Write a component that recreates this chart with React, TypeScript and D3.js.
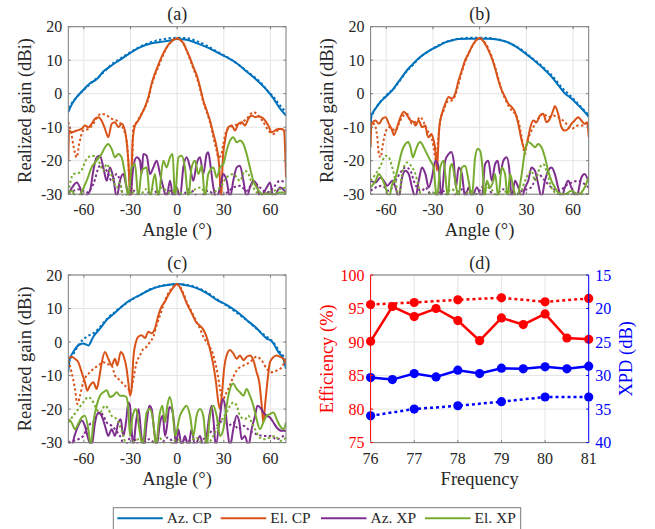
import React from 'react';
import * as d3 from 'd3';

type Pt = [number, number];

const W = 655, H = 529;
const FONT = "'Liberation Serif', 'Times New Roman', Times, serif";
const C_AZCP = '#0072BD', C_ELCP = '#D95319', C_AZXP = '#7E2F8E', C_ELXP = '#77AC30';
const BOX = '#7a7a7a', GRID = '#e4e4e4', TXT = '#262626';

const angleTicks = [-60, -30, 0, 30, 60];
const gainTicks = [-30, -20, -10, 0, 10, 20];
const freqTicks = [76, 77, 78, 79, 80, 81];
const effTicks = [75, 80, 85, 90, 95, 100];
const xpdTicks = [15, 20, 25, 30, 35, 40];
const legendLabels = ['Az. CP', 'El. CP', 'Az. XP', 'El. XP'];

// ---------- Panel (a) ----------
const aAzCPMeas: Pt[] = [[-70,-5.5],[-68,-3.4],[-64.6,-1],[-60.4,1.1],[-56,3.1],[-51.8,4.3],[-47.5,6.6],[-43.2,8.1],[-36.8,10.1],[-30.3,12.1],[-23.9,13.8],[-17.5,14.9],[-11,15.4],[-4.6,15.9],[0,16.3],[6.1,16.1],[12.5,15.1],[19,13.9],[25.4,12.4],[31.8,10.9],[38.3,9.1],[44.7,6.6],[51.1,4.1],[57.6,1.1],[61.9,-1.4],[66.1,-4.4],[70,-6.5]];
const aAzCPSim: Pt[] = [[-70,-4.2],[-66,-1.8],[-62,0.3],[-58,2],[-54,3.8],[-50,5.2],[-46,7],[-42,8.8],[-38,10],[-34,11.3],[-30,12.4],[-24,14],[-18,15.2],[-12,16],[-6,16.5],[0,16.7],[6,16.6],[12,15.8],[18,14.6],[24,13],[30,11.5],[36,9.8],[42,7.8],[48,5.6],[54,3.2],[58,1],[62,-1],[66,-3.4],[70,-5.5]];
const aElCPMeas: Pt[] = [[-70,-20],[-69.5,-11],[-67.9,-11.5],[-64.6,-11],[-61.4,-10.5],[-59.3,-9.5],[-57.1,-10],[-55,-9],[-52.8,-7.5],[-50.7,-7],[-48.6,-8],[-46.4,-10.5],[-44.3,-13],[-42.1,-9],[-40,-8.5],[-37.8,-10],[-35.7,-9],[-33.6,-11],[-31.4,-20],[-30,-32],[-28.6,-14],[-27.1,-9.5],[-25,-8],[-22.8,-6],[-20.7,-4],[-18.5,-1],[-16.4,3],[-14.3,6],[-12.1,8.6],[-10,11],[-7.8,13],[-5.7,14.6],[-3.5,15.6],[-1.4,16.3],[0,16.4],[1.8,16.1],[4,15.1],[6.1,13],[8.3,10.6],[10.4,8],[12.5,5.6],[14.7,2],[16.8,-2],[19,-5],[21.1,-8],[23.3,-12],[25.4,-16],[27.1,-22],[28.2,-32],[29.3,-20],[30.8,-14],[32.9,-10],[35.1,-9.5],[37.2,-11],[39.3,-9],[41.5,-8.5],[43.6,-9.5],[45.8,-7.5],[47.9,-6.5],[50.1,-7],[52.2,-6.8],[54.4,-7.1],[56.5,-8],[58.6,-9.5],[60.8,-11.5],[62.9,-11],[65.1,-10.5],[67.2,-10.5],[68.7,-11],[70,-25]];
const aElCPSim: Pt[] = [[-70,-8.5],[-68,-12],[-66.5,-16],[-64.6,-19],[-63,-15],[-60.4,-11],[-57,-10.5],[-53.9,-9],[-50.7,-6.5],[-48.6,-6],[-45.3,-6.5],[-42.1,-7.5],[-38.9,-8],[-35.7,-9.5],[-32.5,-14],[-30.3,-28],[-29.5,-32],[-28.2,-10],[-26,-8.5],[-21.8,-5],[-18.5,-1.5],[-16.4,2.5],[-14.3,5.5],[-12.1,8],[-10,10.5],[-7.8,12.8],[-5.7,14.5],[-3.5,15.7],[-1.4,16.5],[0,16.6],[1.8,16.2],[4,15],[6.1,12.8],[8.3,10.2],[10.4,7.5],[12.5,5],[14.7,1.5],[16.8,-2.5],[19,-5.5],[21.1,-8.5],[23.3,-13],[25.4,-17],[26.5,-19],[28.2,-18.5],[29.7,-15],[31.8,-11],[36.1,-9.5],[40.4,-9],[44.7,-7.5],[49,-5.5],[52.2,-6.5],[55.4,-8.5],[59.7,-11.5],[61.9,-12],[66.1,-10.5],[70,-11]];
const aAzXPMeas: Pt[] = [[-70,-30],[-66.8,-27.5],[-64.6,-26.5],[-62.5,-28],[-60.4,-31],[-56.1,-29],[-53.9,-23],[-51.8,-19],[-49.6,-18.5],[-47.5,-22],[-45.3,-26],[-43.2,-22],[-41.1,-25],[-38.9,-31],[-36.8,-26],[-34.6,-24],[-32.5,-28],[-30.3,-31],[-28.2,-22],[-26,-19],[-23.9,-20],[-22.8,-24],[-21.8,-18],[-19.6,-18.5],[-17.5,-24],[-15.3,-22],[-13.2,-20],[-11,-24],[-8.9,-28],[-6.8,-31],[-4.6,-26],[-2.5,-31],[-0.3,-28],[1.8,-31],[4,-22],[6.1,-19],[8.3,-22],[10.4,-26],[12.5,-21],[14.7,-19],[16.8,-24],[19,-18],[20,-17.5],[21.6,-22],[23.3,-28],[25.4,-31],[27.6,-28],[29.7,-24],[31.8,-26],[34,-31],[36.1,-26],[38.3,-22],[40.4,-21.5],[42.6,-26],[44.7,-31],[46.8,-28],[49,-26],[51.1,-27],[53.3,-31],[57.6,-28],[59.7,-26.5],[61.9,-31],[66.1,-28],[70,-29.5]];
const aAzXPSim: Pt[] = [[-70,-29.5],[-66.8,-29],[-62.5,-28.5],[-58.2,-29.5],[-53.9,-27],[-49.6,-21.5],[-47.5,-22],[-45.3,-23],[-42.1,-26],[-38.9,-24],[-36.8,-26],[-34.6,-31],[-28,-29],[-22,-31],[-16,-28.5],[-10,-31],[-4,-29],[2,-31],[8,-28.5],[14,-31],[20,-29],[26,-31],[32,-29.5],[36.1,-28],[40.4,-27.5],[44.7,-29],[49,-26.5],[53.3,-28],[57.6,-29.5],[61.9,-28],[66.1,-26],[70,-26.5]];
const aElXPMeas: Pt[] = [[-70,-30],[-67.9,-29],[-64.6,-31],[-58.2,-26],[-55,-22],[-51.8,-20],[-48.6,-18],[-46.4,-16],[-44.3,-15],[-42.1,-16.5],[-40,-19],[-37.8,-18],[-35.7,-19],[-33.6,-24],[-31.4,-31],[-29.3,-22],[-27.1,-21],[-25,-31],[-22.8,-23],[-19.6,-22],[-17.5,-31],[-14.3,-24],[-12.1,-31],[-8.9,-20],[-6.8,-22],[-4.6,-19],[-2.9,-18],[-1.4,-31],[0.8,-19],[2.9,-18.5],[5,-22],[7.2,-31],[9.3,-22],[11.5,-20],[13.6,-24],[15.8,-21.5],[17.9,-31],[20,-24],[23.3,-22],[25.4,-25],[27.6,-22],[29.7,-21],[31.8,-17],[34,-14],[36.1,-13],[38.3,-14.5],[40.4,-14],[42.6,-15],[44.7,-18],[46.8,-22],[49,-26],[51.1,-28],[55.4,-30],[61.9,-30],[66,-29.5],[70,-29.5]];
const aElXPSim: Pt[] = [[-70,-29.5],[-66.8,-24],[-62.5,-23.5],[-58.2,-19.5],[-55,-18.5],[-51.8,-19],[-49.6,-21],[-47.5,-23],[-45.3,-21],[-43.2,-23],[-41.1,-26],[-38.9,-28],[-36.8,-26.5],[-34.6,-31],[-30,-29],[-25,-31],[-20,-28.5],[-15,-31],[-10,-28],[-5,-29.5],[0,-28.5],[5,-31],[10,-29],[15,-28],[20,-31],[25,-29],[27.6,-28],[31.8,-25],[36.1,-24],[40.4,-26],[43.6,-23],[45.8,-24],[49,-28],[53.3,-30],[61.9,-29],[70,-28]];

// ---------- Panel (b) ----------
const bAzCPMeas: Pt[] = [[-70,-10.5],[-69.5,-6.5],[-68.9,-5.9],[-66.8,-4.4],[-63.6,-2.4],[-60.4,-1],[-58.3,0],[-56.1,1],[-53,3],[-49.8,5],[-46.6,7],[-43.4,8.6],[-39.1,10.6],[-34.8,12.1],[-30.6,13.3],[-26.3,14.3],[-22.1,15.3],[-17.8,15.9],[-13.5,16.3],[-7.1,16.4],[0,16.4],[5.6,16.4],[12,16.1],[18.4,15.3],[24.8,13.6],[29.1,12.1],[33.3,10.6],[37.6,8.9],[41.9,7.1],[46.1,5.1],[50.4,2.6],[54.7,0.1],[58.9,-1.4],[63.2,-3.4],[67.4,-5.4],[70,-6.9]];
const bAzCPSim: Pt[] = [[-70,-7.5],[-67,-4.5],[-63,-2],[-59,0],[-55,1.6],[-51,4],[-47,6.6],[-43,8.5],[-39,10.5],[-35,12],[-31,13.2],[-27,14.3],[-23,15.2],[-18,16],[-12,16.5],[-6,16.7],[0,16.7],[6,16.6],[12,16.2],[18,15.3],[24,14],[29,12.4],[34,10.5],[38,9],[42,7.4],[46,5.6],[50,3.4],[54,1.2],[58,-0.5],[62,-2.4],[66,-4.4],[70,-6.4]];
const bElCPMeas: Pt[] = [[-70,-16],[-69.4,-9],[-66.8,-8],[-64.7,-9],[-62.5,-7.5],[-60.4,-7],[-58.3,-9],[-56.1,-11],[-55.1,-12.4],[-53,-10],[-50.8,-7],[-48.7,-5.4],[-46.6,-6.4],[-44.4,-8],[-42.3,-8.5],[-41.2,-9.5],[-39.1,-8],[-37,-10],[-34.8,-9.5],[-33.8,-12],[-32.7,-13],[-31,-12],[-29.5,-14],[-28.4,-17],[-27.4,-23],[-26.7,-17],[-25.9,-10],[-24.2,-6],[-22.1,-3],[-19.9,-1],[-17.8,-1.5],[-15.7,0],[-13.5,4],[-11.4,7],[-9.3,10],[-7.1,12],[-5,14],[-2.9,15.6],[0,16.6],[2.4,15.6],[5.6,13],[7.8,10.6],[9.9,7.6],[12,4],[14.2,1],[16.3,-1],[18.4,-3],[20.6,-4],[22.7,-5.5],[24.8,-9],[27,-14],[28.7,-16.5],[29.7,-16],[31.2,-13],[32.3,-10.5],[34.4,-8],[36.5,-8.5],[38.7,-6.5],[40.8,-6],[42.9,-8.5],[45.1,-7.5],[47.2,-5],[48.3,-3.7],[50.4,-6],[52.5,-10],[54.7,-11],[56.8,-10.5],[58.9,-9],[61,-8],[63.2,-7],[65.3,-8],[67.4,-9],[69.1,-8.5],[70,-13]];
const bElCPSim: Pt[] = [[-70,-10.5],[-67.9,-9],[-65.7,-13],[-64.7,-18],[-63.6,-19],[-62.1,-15],[-60.4,-11.5],[-58.3,-10],[-56.1,-10.5],[-54,-11],[-51.9,-9],[-49.8,-7],[-46.6,-6],[-43.4,-9],[-40.2,-8],[-38,-7],[-35.9,-8.5],[-33.8,-11],[-31.6,-12],[-29.5,-16],[-28,-20],[-26.7,-14],[-25.3,-8],[-23.1,-5],[-21,-2.5],[-17.8,-2],[-15.7,-0.5],[-13.5,3],[-11.4,6.5],[-9.3,9.5],[-7.1,12],[-5,14],[-2.9,15.5],[0,16.6],[2.4,15.8],[5.6,13.5],[7.8,11],[9.9,8],[12,4.5],[14.2,1],[16.3,-1.5],[18.4,-3.5],[20.6,-5],[22.7,-6],[24.8,-8],[27,-13],[29.1,-18],[30.2,-15],[32.3,-12],[34.4,-10],[37.6,-7.5],[40.8,-6],[44,-7],[47.2,-6.5],[50.4,-7],[54.7,-8.5],[58.9,-10.5],[63.2,-9.5],[66.4,-9.5],[70,-8]];
const bAzXPMeas: Pt[] = [[-70,-26],[-66.8,-26.5],[-63.6,-25],[-61.5,-26],[-59.3,-27.5],[-56.1,-26],[-54,-28],[-51.9,-31],[-49.8,-25],[-47.6,-23],[-45.5,-24],[-43.4,-28],[-41.2,-31],[-39.1,-26],[-37,-22],[-34.8,-24],[-32.7,-28],[-30.6,-25],[-28.4,-20],[-26.3,-22],[-24.6,-31],[-22.1,-20],[-19.9,-18],[-18.2,-17.4],[-16.7,-20],[-15.2,-28],[-13.5,-22],[-11.4,-24],[-9.3,-31],[-7.1,-28],[-5,-31],[-1.8,-28],[1.4,-31],[3.5,-21],[5.6,-20],[7.8,-26],[9.9,-21],[11.6,-20],[13.1,-24],[15.2,-20],[17.4,-19],[18.9,-22],[20.6,-31],[22.7,-26],[24.8,-28],[27,-31],[29.1,-28],[31.2,-26],[33.3,-22],[35.5,-23],[37.6,-27],[39.7,-31],[41.9,-26],[44,-23],[46.1,-22],[48.3,-24],[50.4,-28],[52.5,-31],[54.7,-28],[56.8,-26],[58.9,-28],[62.1,-31],[65.3,-25],[67.4,-24],[70,-26.5]];
const bAzXPSim: Pt[] = [[-70,-29],[-66.8,-28],[-62.5,-27.5],[-58.3,-29],[-54,-26],[-50.8,-23.5],[-47.6,-22],[-44.4,-23],[-42.3,-26],[-40.2,-28],[-37,-29],[-34.8,-28],[-30,-31],[-24,-29],[-18,-31],[-12,-28.5],[-6,-31],[0,-29],[3.5,-27],[5.6,-27.5],[9,-31],[15,-28.5],[21,-31],[27,-29],[33,-28],[37.6,-24],[41.9,-26],[46.1,-28],[50.4,-29],[56.8,-27],[63.2,-26],[67.4,-27],[70,-28]];
const bElXPMeas: Pt[] = [[-70,-28],[-66.8,-26],[-64.7,-24],[-62.5,-25.5],[-60.4,-28],[-58.3,-31],[-56.1,-27],[-54,-25],[-51.9,-21],[-49.8,-17],[-47.6,-15],[-45.9,-14.4],[-44.4,-16],[-42.9,-19],[-41.2,-17],[-39.5,-15],[-38,-14.4],[-35.9,-16],[-33.8,-18],[-31.6,-20],[-29.5,-22],[-28.4,-28],[-27.4,-31],[-25.3,-22],[-23.1,-20],[-22.1,-24],[-20.4,-31],[-18.9,-22],[-17.8,-21],[-15.7,-26],[-13.5,-31],[-11.4,-22],[-9.3,-21.5],[-7.1,-26],[-5,-31],[-2.9,-19],[-1.2,-16.4],[0.3,-17],[1.8,-22],[3.1,-31],[4.6,-26],[6.7,-28],[8.8,-26],[9.9,-24],[12,-31],[14.2,-22],[16.3,-24],[18,-31],[19.5,-24],[21.6,-28],[23.8,-31],[27,-24],[29.1,-17],[31.2,-14.4],[33.3,-15],[35.5,-16],[37.6,-15],[39.7,-16],[41.9,-19],[44,-23],[46.1,-26],[48.3,-28],[50.4,-29.5],[54.7,-30],[58.9,-29],[63.2,-30],[67.4,-28],[70,-25]];
const bElXPSim: Pt[] = [[-70,-26],[-66.8,-24],[-63.6,-21.5],[-60.4,-18.5],[-58.3,-19],[-56.1,-22],[-54,-26],[-51.9,-31],[-49.8,-24],[-46.6,-20.5],[-43.4,-22],[-41.2,-24],[-39.1,-28],[-37,-31],[-30,-29.5],[-24,-31],[-18,-28.5],[-12,-31],[-6,-29],[0,-31],[6,-28],[12,-31],[18,-29],[24.8,-31],[29.1,-26],[31.2,-24],[33.3,-23],[35.5,-26],[38.7,-22],[40.8,-21],[42.9,-23],[46.1,-28],[50.4,-30],[70,-30]];

// ---------- Panel (c) ----------
const cAzCPMeas: Pt[] = [[-70,-9],[-69,-5],[-66.8,-3],[-63.6,-1],[-60.4,-0.4],[-57.1,-1],[-53.9,1.6],[-49.6,4],[-45.3,6.6],[-41.1,8.3],[-36.8,10.1],[-32.5,11.8],[-28.2,13],[-23.9,14],[-17.5,15.6],[-11,16.6],[-4.6,17.1],[0,17.3],[6.1,16.9],[12.5,16.1],[19,14.6],[25.4,12.6],[31.8,11.1],[38.3,9.1],[44.7,6.6],[51.1,4.1],[55.4,2],[57.6,1],[59.7,0.6],[61.9,-0.4],[65.1,-3],[68.3,-5],[70,-8]];
const cAzCPSim: Pt[] = [[-70,-6],[-66,-3],[-63.6,-1],[-58.2,1.6],[-53.9,2.6],[-49.6,4.5],[-45,7],[-40,9],[-35,10.8],[-30,12.4],[-24,14],[-18,15.6],[-12,16.6],[-6,17.1],[0,17.3],[6,17.1],[12,16.4],[18,15.1],[24,13.3],[30,11.4],[36,9.5],[42,7.5],[48,5.2],[54,2.8],[57.6,1.6],[61.9,-0.1],[66.1,-3],[70,-5]];
const cElCPMeas: Pt[] = [[-70,-5],[-67.9,-4.4],[-65.7,-5],[-63.6,-6],[-61.4,-9],[-59.3,-12],[-57.8,-14.5],[-56.1,-13],[-53.9,-12],[-51.8,-14],[-50,-10.4],[-48.6,-6.4],[-46.4,-3],[-44.3,-5],[-42.1,-7],[-40,-5],[-38.5,-7],[-36.3,-3],[-34.6,-4],[-32.5,-8],[-31.4,-12],[-30.3,-16],[-29.3,-14],[-28.2,-5],[-26.5,0],[-25,1.6],[-22.8,2],[-20.7,1.2],[-18.5,3.1],[-16.4,2.6],[-14.3,4],[-12.1,8],[-10,10.6],[-7.8,12.1],[-5.7,14],[-3.5,15.6],[-1.4,16.9],[0,17.3],[1.8,16.3],[4,14.1],[6.1,11.6],[8.3,9.6],[10,8],[12.1,6],[14.3,5],[16.4,4],[18.6,2],[20.7,-1.4],[22.9,-5.9],[25,-12],[26.5,-18],[27.6,-20],[28.7,-16],[30.2,-8],[31.8,-4],[34,-2.4],[36.1,-3.4],[38.3,-5],[40.4,-4],[42.6,-5.4],[44.7,-4.4],[46.8,-4],[49,-5.4],[51.1,-9],[52.8,-12],[54.4,-19],[55.4,-24],[56.5,-19],[58,-12],[59.7,-6],[61.9,-4.5],[64,-4],[66.1,-4.4],[68.3,-5],[70,-6.4]];
const cElCPSim: Pt[] = [[-70,-5.5],[-67.9,-9],[-65.7,-14],[-64.2,-18.5],[-62.5,-16],[-60.4,-12],[-58.2,-10],[-56.1,-9],[-53.9,-8],[-50.7,-7],[-47.5,-6],[-45.3,-6.5],[-42.1,-7],[-40,-10],[-37.8,-11],[-35.7,-12],[-33.6,-13],[-31.4,-14],[-29.9,-15],[-28.2,-11],[-26,-6],[-23.9,-4],[-21.8,-2],[-19.6,-1.4],[-17.5,0],[-15.3,1.6],[-13.2,5],[-11,8],[-8.9,11],[-6.8,13.5],[-4.6,15.3],[-2.5,16.5],[0,17.2],[2,16.5],[4,14.5],[6.1,12],[8.3,10],[10.4,8],[12.5,6],[14.7,4],[16.8,1.6],[19,0],[21.1,-1.5],[23.3,-4],[25.4,-8],[27.6,-14],[29.3,-17.5],[30.8,-16],[32.9,-14],[36.1,-10.4],[38.3,-8.5],[42.6,-7],[46.8,-6],[51.1,-4.4],[54.4,-5.5],[57.6,-8],[60.8,-9],[64,-8.5],[67.2,-7.5],[70,-5]];
const cAzXPMeas: Pt[] = [[-70,-29.5],[-67.9,-31],[-66,-28],[-63.6,-25],[-61.4,-23.4],[-59.3,-25],[-57.1,-29],[-55,-31],[-52.8,-24],[-50.7,-21],[-48.6,-22],[-46.4,-25],[-44.3,-28],[-42.1,-26],[-40,-28],[-37.8,-24],[-36.3,-23],[-34.6,-28],[-32.9,-24],[-31.4,-18],[-30.3,-19],[-29.3,-26],[-28.2,-31],[-26.5,-24],[-24.8,-20],[-23,-28],[-21.3,-31],[-19.6,-24],[-17.9,-19],[-16.4,-20],[-14.9,-26],[-13.2,-31],[-11,-24],[-9.3,-22],[-7.8,-28],[-6.8,-26],[-5,-19.4],[-3.5,-20],[-2,-24],[-0.7,-31],[0.8,-26],[2.9,-31],[5,-28],[7.2,-31],[9.3,-26],[11.5,-31],[14.7,-28],[16.8,-31],[19,-28],[20.7,-22],[22.2,-19],[23.5,-24],[24.8,-31],[27.6,-22],[29.3,-17],[30.8,-19],[32.3,-26],[34,-31],[36.1,-26],[38.3,-22],[40,-24],[41.5,-29],[43.6,-28],[45.8,-31],[47.9,-26],[50.1,-22],[51.6,-19],[53.3,-19.5],[55.4,-21],[57.6,-22],[59.7,-22.5],[61.9,-24],[64,-25.5],[67.2,-26.5],[70,-26.5]];
const cAzXPSim: Pt[] = [[-70,-30],[-66.8,-29.5],[-63.6,-29],[-60.4,-28],[-58.2,-26],[-56.1,-24.5],[-53.9,-24],[-51.8,-22],[-49.6,-21],[-47.5,-22],[-45.3,-24],[-42.1,-25],[-40,-26],[-36.8,-28],[-33.6,-31],[-29.3,-28],[-24,-31],[-18,-29],[-12,-31],[-6,-28.5],[0,-31],[6,-29],[12,-31],[18,-28.5],[23.3,-26],[27.6,-24],[30.2,-23],[33,-25],[36.1,-24],[39.3,-26],[42.6,-25],[46.8,-26.5],[51.1,-27.5],[55.4,-28],[59.7,-28],[64,-29],[68.3,-28],[70,-27.5]];
const cElXPMeas: Pt[] = [[-70,-23],[-67.9,-24],[-65.7,-26],[-63.6,-24.4],[-61.4,-22.5],[-59.3,-22],[-57.1,-26],[-55.6,-31],[-53.9,-24],[-51.8,-19],[-49.6,-16],[-47.5,-15],[-45.3,-14.4],[-43.2,-16.4],[-41.1,-16],[-38.9,-15],[-36.8,-16],[-34.6,-16],[-32.5,-16.5],[-31.4,-20],[-30.3,-28],[-28.6,-22],[-26.5,-20],[-24.3,-26],[-22.2,-31],[-19.6,-21],[-17.5,-20],[-15.3,-24],[-13.6,-31],[-11.4,-22],[-9.6,-19],[-7.8,-24],[-6.3,-19],[-4.8,-16.4],[-3,-20],[-1.3,-28],[1.8,-22],[4,-20],[6.1,-19],[8.3,-22],[10.4,-28],[12.5,-22],[14.7,-20],[16.8,-22],[19,-31],[21.1,-22],[23.3,-19],[25.4,-22],[27.6,-28],[29.7,-26],[31.8,-19],[34,-14],[36.1,-12.4],[38.3,-14],[40.4,-15],[42.6,-16],[44.7,-14],[46.8,-16],[49,-19],[51.1,-23],[53.3,-26],[55.4,-24],[57.6,-22],[59.7,-21.5],[61.9,-21],[64,-23],[66.1,-25],[68.3,-26],[70,-24]];
const cElXPSim: Pt[] = [[-70,-24],[-66.8,-22],[-63.6,-20],[-60.4,-18],[-57.1,-16.4],[-53.9,-18],[-51.8,-20],[-49.6,-21],[-46.4,-19],[-44.3,-20],[-42.1,-22],[-38.9,-23],[-36.8,-25],[-34.6,-28],[-32.5,-31],[-25,-29],[-18,-31],[-12,-28.5],[-6,-31],[0,-29],[6,-31],[12,-28.5],[18,-31],[23.3,-28],[27.6,-24],[31.8,-21],[34,-19],[36.1,-18],[38.3,-19],[40.4,-22],[43.6,-23],[45.8,-22],[47.9,-24],[50.1,-26],[52.2,-28],[55.4,-29],[59.7,-28.5],[62.9,-28],[66.1,-29.5],[70,-28.5]];

// ---------- Panel (d) ----------
const freqMeas = [76, 76.5, 77, 77.5, 78, 78.5, 79, 79.5, 80, 80.5, 81];
const freqSim = [76, 77, 78, 79, 80, 81];
const effMeas = [90.1, 95.3, 93.8, 95.0, 93.2, 90.2, 93.6, 92.6, 94.2, 90.6, 90.4];
const effSim = [95.6, 95.9, 96.3, 96.6, 96.0, 96.5];
const xpdMeas = [30.3, 30.6, 29.7, 30.2, 29.2, 29.7, 28.9, 29.0, 28.7, 29.0, 28.6];
const xpdSim = [36.0, 35.0, 34.5, 33.9, 33.2, 33.2];

interface Series { data: Pt[]; color: string; dotted: boolean }

const mk = (azm: Pt[], azs: Pt[], elm: Pt[], els: Pt[], axm: Pt[], axs: Pt[], exm: Pt[], exs: Pt[]): Series[] => [
  { data: azm, color: C_AZCP, dotted: false },
  { data: azs, color: C_AZCP, dotted: true },
  { data: elm, color: C_ELCP, dotted: false },
  { data: els, color: C_ELCP, dotted: true },
  { data: axm, color: C_AZXP, dotted: false },
  { data: axs, color: C_AZXP, dotted: true },
  { data: exm, color: C_ELXP, dotted: false },
  { data: exs, color: C_ELXP, dotted: true },
];

const seriesA = mk(aAzCPMeas, aAzCPSim, aElCPMeas, aElCPSim, aAzXPMeas, aAzXPSim, aElXPMeas, aElXPSim);
const seriesB = mk(bAzCPMeas, bAzCPSim, bElCPMeas, bElCPSim, bAzXPMeas, bAzXPSim, bElXPMeas, bElXPSim);
const seriesC = mk(cAzCPMeas, cAzCPSim, cElCPMeas, cElCPSim, cAzXPMeas, cAzXPSim, cElXPMeas, cElXPSim);

const TICK_FS = 16, LABEL_FS = 18.5;
const txtStyle = { fontFamily: FONT } as React.CSSProperties;

function PatternPanel({ id, x0, x1, y0, y1, title, series }: { id: string; x0: number; x1: number; y0: number; y1: number; title: string; series: Series[] }) {
  const x = d3.scaleLinear().domain([-70, 70]).range([x0, x1]);
  const y = d3.scaleLinear().domain([-30, 20]).range([y1, y0]);
  const line = d3.line<Pt>().x(d => x(d[0])).y(d => y(d[1])).curve(d3.curveMonotoneX);
  const cx = (x0 + x1) / 2, cy = (y0 + y1) / 2;
  return (
    <g>
      <defs>
        <clipPath id={id}><rect x={x0} y={y0 - 1} width={x1 - x0} height={y1 - y0 + 2} /></clipPath>
      </defs>
      {angleTicks.map(t => <line key={'gx' + t} x1={x(t)} x2={x(t)} y1={y0} y2={y1} stroke={GRID} strokeWidth={1} />)}
      {gainTicks.map(t => <line key={'gy' + t} x1={x0} x2={x1} y1={y(t)} y2={y(t)} stroke={GRID} strokeWidth={1} />)}
      <g clipPath={`url(#${id})`}>
        {series.map((s, i) => (
          <path key={i} d={line(s.data) || ''} fill="none" stroke={s.color} strokeWidth={2}
            strokeDasharray={s.dotted ? '2.4 2.4' : undefined} strokeLinejoin="round" />
        ))}
      </g>
      <rect x={x0} y={y0} width={x1 - x0} height={y1 - y0} fill="none" stroke={BOX} strokeWidth={1} />
      {angleTicks.map(t => (
        <g key={'tx' + t}>
          <line x1={x(t)} x2={x(t)} y1={y1} y2={y1 - 2.5} stroke={BOX} />
          <line x1={x(t)} x2={x(t)} y1={y0} y2={y0 + 2.5} stroke={BOX} />
          <text x={x(t)} y={y1 + 21} textAnchor="middle" fontSize={TICK_FS} fill={TXT} style={txtStyle}>{t}</text>
        </g>
      ))}
      {gainTicks.map(t => (
        <g key={'ty' + t}>
          <line x1={x0} x2={x0 + 2.5} y1={y(t)} y2={y(t)} stroke={BOX} />
          <line x1={x1} x2={x1 - 2.5} y1={y(t)} y2={y(t)} stroke={BOX} />
          <text x={x0 - 6} y={y(t) + 5.5} textAnchor="end" fontSize={TICK_FS} fill={TXT} style={txtStyle}>{t}</text>
        </g>
      ))}
      <text x={cx} y={y0 - 6.5} textAnchor="middle" fontSize={18} fill={TXT} style={txtStyle}>{title}</text>
      <text x={cx} y={y1 + 42} textAnchor="middle" fontSize={LABEL_FS} fill={TXT} style={txtStyle}>Angle (°)</text>
      <text transform={`translate(${x0 - 37.8},${cy}) rotate(-90)`} textAnchor="middle" fontSize={LABEL_FS} fill={TXT} style={txtStyle}>Realized gain (dBi)</text>
    </g>
  );
}

function EffPanel({ x0, x1, y0, y1 }: { x0: number; x1: number; y0: number; y1: number }) {
  const x = d3.scaleLinear().domain([76, 81]).range([x0, x1]);
  const yl = d3.scaleLinear().domain([75, 100]).range([y1, y0]);
  const yr = d3.scaleLinear().domain([15, 40]).range([y0, y1]);
  const RED = '#ff0000', BLUE = '#0000ff';
  const lineL = d3.line<[number, number]>().x(d => x(d[0])).y(d => yl(d[1]));
  const lineR = d3.line<[number, number]>().x(d => x(d[0])).y(d => yr(d[1]));
  const effM = freqMeas.map((f, i) => [f, effMeas[i]] as [number, number]);
  const effS = freqSim.map((f, i) => [f, effSim[i]] as [number, number]);
  const xpdM = freqMeas.map((f, i) => [f, xpdMeas[i]] as [number, number]);
  const xpdS = freqSim.map((f, i) => [f, xpdSim[i]] as [number, number]);
  const cx = (x0 + x1) / 2, cy = (y0 + y1) / 2;
  const curves = [
    { d: effS, l: lineL, y: yl, c: RED, dot: true },
    { d: effM, l: lineL, y: yl, c: RED, dot: false },
    { d: xpdS, l: lineR, y: yr, c: BLUE, dot: true },
    { d: xpdM, l: lineR, y: yr, c: BLUE, dot: false },
  ];
  return (
    <g>
      {freqTicks.map(t => <line key={'gx' + t} x1={x(t)} x2={x(t)} y1={y0} y2={y1} stroke={GRID} />)}
      {effTicks.map(t => <line key={'gy' + t} x1={x0} x2={x1} y1={yl(t)} y2={yl(t)} stroke={GRID} />)}
      {curves.map((c, i) => (
        <g key={i}>
          <path d={c.l(c.d) || ''} fill="none" stroke={c.c} strokeWidth={2.5} strokeDasharray={c.dot ? '3 3' : undefined} />
          {c.d.map((p, j) => <circle key={j} cx={x(p[0])} cy={c.y(p[1])} r={4.6} fill={c.c} />)}
        </g>
      ))}
      <line x1={x0} x2={x1} y1={y0} y2={y0} stroke={BOX} />
      <line x1={x0} x2={x1} y1={y1} y2={y1} stroke={BOX} />
      <line x1={x0} x2={x0} y1={y0} y2={y1} stroke={RED} />
      <line x1={x1} x2={x1} y1={y0} y2={y1} stroke={BLUE} />
      {freqTicks.map(t => (
        <g key={'tx' + t}>
          <line x1={x(t)} x2={x(t)} y1={y1} y2={y1 - 2.5} stroke={BOX} />
          <text x={x(t)} y={y1 + 21} textAnchor="middle" fontSize={TICK_FS} fill={TXT} style={txtStyle}>{t}</text>
        </g>
      ))}
      {effTicks.map(t => (
        <g key={'tl' + t}>
          <line x1={x0} x2={x0 + 2.5} y1={yl(t)} y2={yl(t)} stroke={RED} />
          <text x={x0 - 6} y={yl(t) + 5.5} textAnchor="end" fontSize={TICK_FS} fill={RED} style={txtStyle}>{t}</text>
        </g>
      ))}
      {xpdTicks.map(t => (
        <g key={'tr' + t}>
          <line x1={x1} x2={x1 - 2.5} y1={yr(t)} y2={yr(t)} stroke={BLUE} />
          <text x={x1 + 6.5} y={yr(t) + 5.5} textAnchor="start" fontSize={TICK_FS} fill={BLUE} style={txtStyle}>{t}</text>
        </g>
      ))}
      <text x={cx} y={y0 - 6.5} textAnchor="middle" fontSize={18} fill={TXT} style={txtStyle}>(d)</text>
      <text x={cx} y={y1 + 42} textAnchor="middle" fontSize={LABEL_FS} fill={TXT} style={txtStyle}>Frequency</text>
      <text transform={`translate(${x0 - 37.8},${cy}) rotate(-90)`} textAnchor="middle" fontSize={LABEL_FS} fill={RED} style={txtStyle}>Efficiency (%)</text>
      <text transform={`translate(${x1 + 43.5},${cy}) rotate(-90)`} textAnchor="middle" fontSize={LABEL_FS} fill={BLUE} style={txtStyle}>XPD (dB)</text>
    </g>
  );
}

export default function App() {
  const legendColors = [C_AZCP, C_ELCP, C_AZXP, C_ELXP];
  const legendX = [117.3, 220.7, 321, 425];
  return (
    <svg width={W} height={H} style={{ position: 'absolute', left: 0, top: 0, background: '#fff', fontFamily: FONT }}>
      <rect x={0} y={0} width={W} height={H} fill="#fff" />
      <PatternPanel id="ca" x0={68.3} x1={286} y0={26.7} y1={194.2} title="(a)" series={seriesA} />
      <PatternPanel id="cb" x0={370.6} x1={588.7} y0={26.7} y1={194.2} title="(b)" series={seriesB} />
      <PatternPanel id="cc" x0={68.3} x1={286} y0={275} y1={442.6} title="(c)" series={seriesC} />
      <EffPanel x0={370.6} x1={588.7} y0={275} y1={442.6} />
      <rect x={113.3} y={507.7} width={407.4} height={30} fill="#fff" stroke={BOX} strokeWidth={1} />
      {legendLabels.map((lab, i) => (
        <g key={lab}>
          <line x1={legendX[i]} x2={legendX[i] + 45.5} y1={518.3} y2={518.3} stroke={legendColors[i]} strokeWidth={2} />
          <text x={legendX[i] + 49.5} y={523} fontSize={15.5} fill={TXT} style={txtStyle}>{lab}</text>
        </g>
      ))}
    </svg>
  );
}
